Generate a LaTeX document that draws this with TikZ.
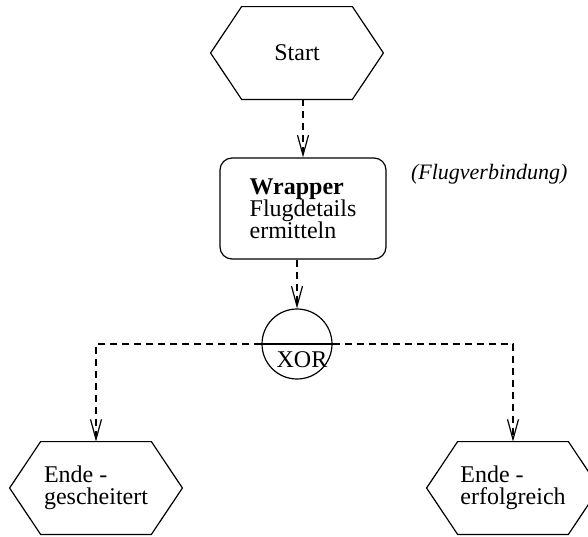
\documentclass[tikz,border=0pt]{standalone}
\usepackage{fontspec}
\setmainfont{Liberation Serif}
\usetikzlibrary{arrows.meta}

\begin{document}
\begin{tikzpicture}[x=0.5pt,y=-0.5pt,
    font=\fontsize{12}{11}\selectfont,
    event/.style={minimum width=55pt,minimum height=46pt,
                  inner sep=0pt,align=left},
    hexline/.style={line width=0.6pt,line join=miter},
    func/.style={draw,line width=0.6pt,rounded corners=6pt,
                 minimum width=83pt,minimum height=50.5pt,
                 inner sep=0pt,align=left},
    conn/.style={circle,draw,line width=0.6pt,minimum size=35pt,inner sep=0pt},
    flow/.style={line width=0.6pt,dash pattern=on 3.5pt off 2.5pt,
                 -{Straight Barb[length=10pt,width=5.5pt]}}]
  \useasboundingbox (0,0) rectangle (588,536);
  \clip (0,0) rectangle (588,536);
  % events and function
  \node[event] (start) at (297,53) {Start};
  \node[func] (wrapper) at (303,208.5) {\textbf{Wrapper}\\Flugdetails\\ermitteln};
  \node[anchor=base west,font=\fontsize{11}{11}\selectfont\itshape]
       (flugverb) at (404,179) {(Flugverbindung)};
  % connector
  \node[conn] (xor) at (297,344) {};
  \draw[line width=0.6pt] (xor.west) -- (xor.east);
  \node[anchor=base] (xorlabel) at (302,367) {XOR};
  % end events
  \node[event] (fail) at (96,488) {Ende -\\gescheitert};
  \node[event] (ok) at (513,488) {Ende -\\erfolgreich};
  % hexagon outlines
  \foreach \n in {start,fail,ok}
    \draw[hexline] (\n.north west) -- ([xshift=-15.5pt]\n.west)
      -- (\n.south west) -- (\n.south east)
      -- ([xshift=15.5pt]\n.east) -- (\n.north east) -- cycle;
  % control flow
  \draw[flow] (start.south -| wrapper.north) -- (wrapper.north);
  \draw[flow] (wrapper.south -| xor.north) -- (xor.north);
  \draw[flow] (xor.west) -| (fail.north);
  \draw[flow] (xor.east) -| (ok.north);
\end{tikzpicture}
\end{document}
